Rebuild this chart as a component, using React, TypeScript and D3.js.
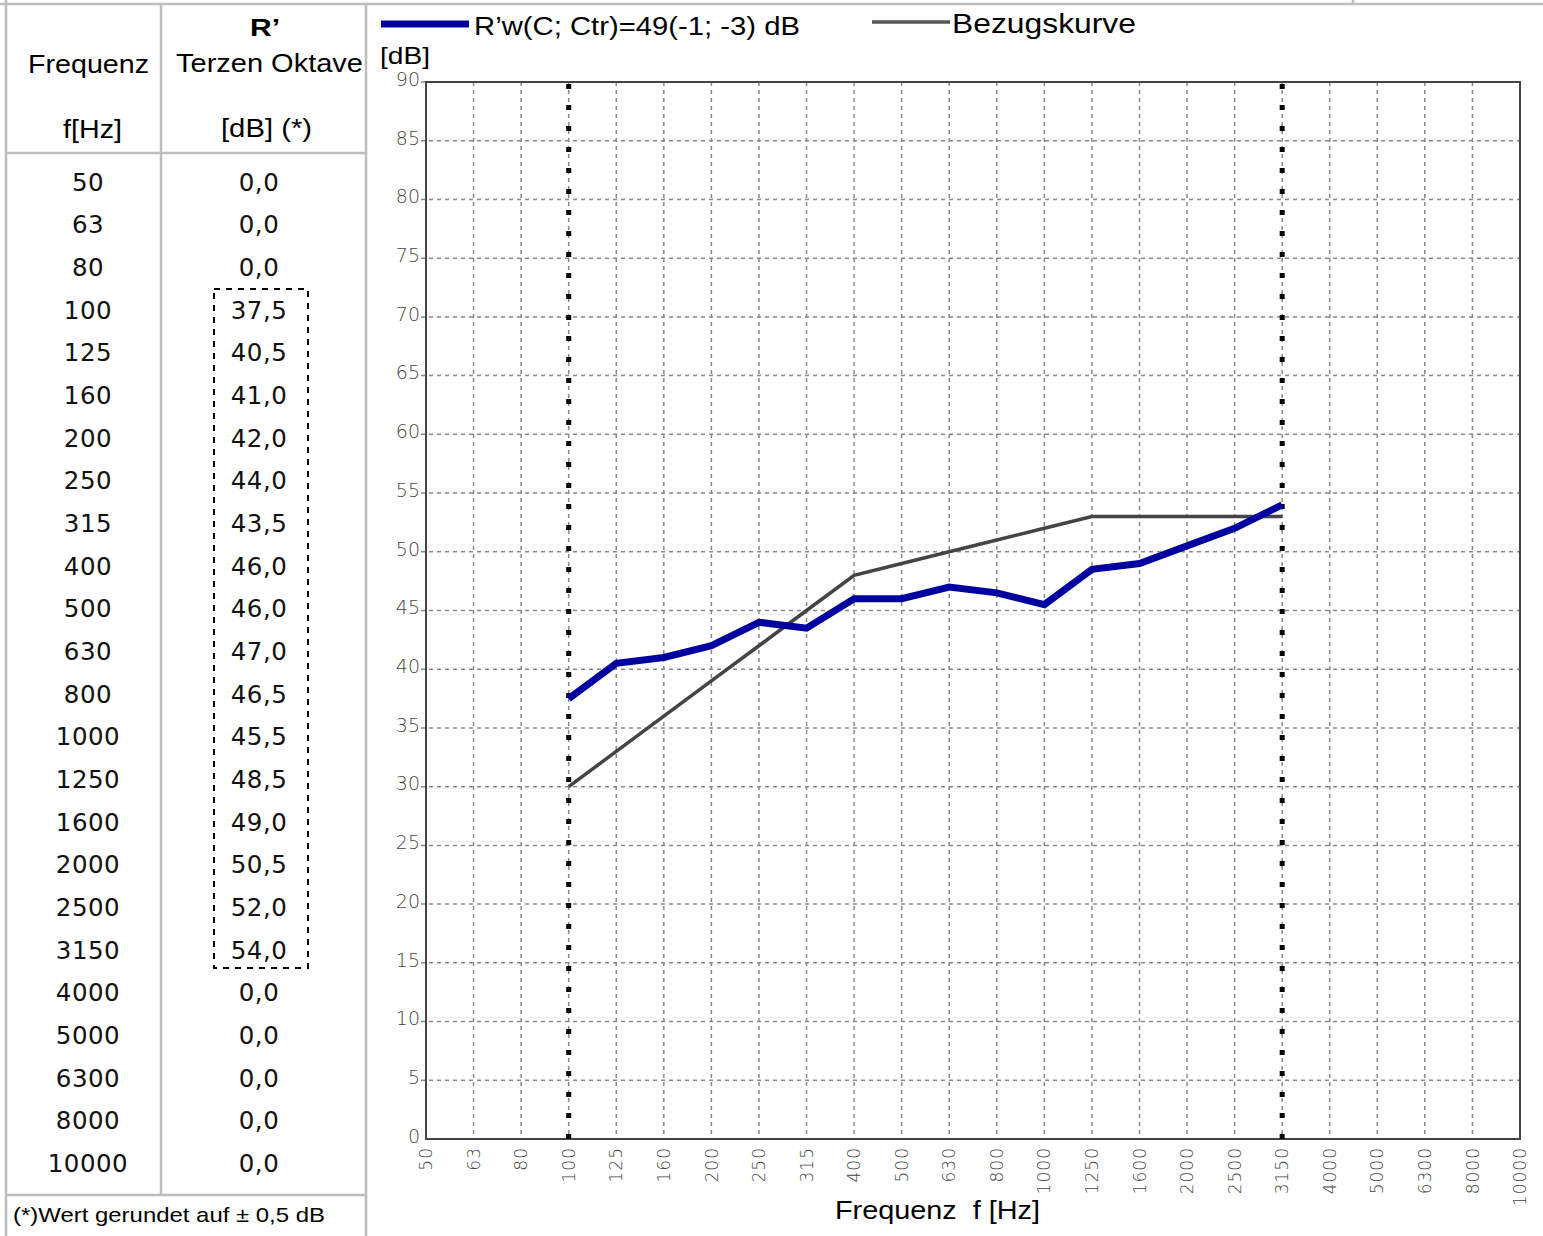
import React, { useEffect, useRef } from "react";
import * as d3 from "d3";

// terzband frequencies (x axis + table)
const frequencies = ["50", "63", "80", "100", "125", "160", "200", "250", "315", "400", "500", "630", "800", "1000", "1250", "1600", "2000", "2500", "3150", "4000", "5000", "6300", "8000", "10000"];
// table values R' per band (0 outside measured range)
const tableValues = [0, 0, 0, 37.5, 40.5, 41, 42, 44, 43.5, 46, 46, 47, 46.5, 45.5, 48.5, 49, 50.5, 52, 54, 0, 0, 0, 0, 0];
// measured curve 100..3150 Hz
const measuredFreqs = ["100", "125", "160", "200", "250", "315", "400", "500", "630", "800", "1000", "1250", "1600", "2000", "2500", "3150"];
const measuredValues = [37.5, 40.5, 41, 42, 44, 43.5, 46, 46, 47, 46.5, 45.5, 48.5, 49, 50.5, 52, 54];
// shifted reference curve (Bezugskurve)
const referenceValues = [30, 33, 36, 39, 42, 45, 48, 49, 50, 51, 52, 53, 53, 53, 53, 53];
const yTicks = [0, 5, 10, 15, 20, 25, 30, 35, 40, 45, 50, 55, 60, 65, 70, 75, 80, 85, 90];
const rangeMarks = ["100", "3150"];

const W = 1543;
const H = 1236;
const sans = "Liberation Sans, Arial, sans-serif";

function App() {
  const ref = useRef<SVGSVGElement | null>(null);

  useEffect(() => {
    const svg = d3.select(ref.current);
    svg.selectAll("*").remove();

    const x0 = 426, x1 = 1520, y0 = 1139, y1 = 82;
    const x = d3.scalePoint<string>().domain(frequencies).range([x0, x1]);
    const y = d3.scaleLinear().domain([0, 90]).range([y0, y1]);
    const fmt = (v: number) => d3.format(".1f")(v).replace(".", ",");

    // helper for the (horizontally wide) labels of the original
    const label = (txt: string, lx: number, ly: number, size: number, len: number, anchor = "start", bold = false) =>
      svg.append("text").attr("x", lx).attr("y", ly).attr("font-family", sans).attr("font-size", size)
        .attr("font-weight", bold ? "bold" : "normal").attr("text-anchor", anchor)
        .attr("textLength", len).attr("lengthAdjust", "spacingAndGlyphs").attr("xml:space", "preserve")
        .attr("fill", "#000").text(txt);

    // ---- table / frame lines
    const frame = svg.append("g").attr("stroke", "#bdbdbd").attr("stroke-width", 2.5);
    frame.append("line").attr("x1", 0).attr("x2", W).attr("y1", 4).attr("y2", 4);
    frame.append("line").attr("x1", 1353).attr("x2", 1353).attr("y1", 0).attr("y2", 4);
    frame.append("line").attr("x1", 6).attr("x2", 6).attr("y1", 0).attr("y2", H);
    frame.append("line").attr("x1", 366).attr("x2", 366).attr("y1", 4).attr("y2", H);
    frame.append("line").attr("x1", 161).attr("x2", 161).attr("y1", 4).attr("y2", 1195);
    frame.append("line").attr("x1", 6).attr("x2", 366).attr("y1", 153).attr("y2", 153);
    frame.append("line").attr("x1", 6).attr("x2", 366).attr("y1", 1195).attr("y2", 1195);

    label("R’", 265, 36, 24, 30, "middle", true);
    label("Frequenz", 88.5, 73, 25, 121, "middle");
    label("Terzen Oktave", 269.5, 72, 25, 187, "middle");
    label("f[Hz]", 92.5, 138, 25, 59, "middle");
    label("[dB] (*)", 266.5, 137, 25, 91, "middle");

    const rowY = d3.scalePoint<string>().domain(frequencies).range([182, 1163]);
    const rows = svg.append("g").attr("font-family", "DejaVu Sans, sans-serif").attr("font-size", 24.5)
      .attr("fill", "#111").attr("text-anchor", "middle").attr("letter-spacing", 0.5);
    frequencies.forEach((f, i) => {
      rows.append("text").attr("x", 88).attr("y", rowY(f)!).attr("dy", "0.36em").text(f);
      rows.append("text").attr("x", 259).attr("y", rowY(f)!).attr("dy", "0.36em").text(fmt(tableValues[i]));
    });
    svg.append("rect").attr("x", 214).attr("y", 289).attr("width", 94).attr("height", 679)
      .attr("fill", "none").attr("stroke", "#000").attr("stroke-width", 2).attr("stroke-dasharray", "6,6");

    label("(*)Wert gerundet auf ± 0,5 dB", 13, 1222, 21, 312);

    // ---- grid
    const grid = svg.append("g").attr("stroke", "#888").attr("stroke-width", 1.5).attr("stroke-dasharray", "4,4");
    yTicks.filter(t => t > 0).forEach(t => {
      grid.append("line").attr("x1", x0 - 5).attr("x2", x1).attr("y1", y(t)).attr("y2", y(t));
    });
    frequencies.slice(1, -1).forEach(f => {
      grid.append("line").attr("x1", x(f)!).attr("x2", x(f)!).attr("y1", y1).attr("y2", y0);
    });

    svg.append("rect").attr("x", x0).attr("y", y1).attr("width", x1 - x0).attr("height", y0 - y1)
      .attr("fill", "none").attr("stroke", "#444").attr("stroke-width", 2);

    // ---- tick labels
    const tickFont = "DejaVu Sans, sans-serif";
    svg.append("g").selectAll("text").data(yTicks).join("text")
      .attr("x", x0 - 6).attr("y", d => y(d)).attr("dy", "0.2em")
      .attr("text-anchor", "end").attr("font-family", tickFont).attr("font-weight", 200)
      .attr("font-size", 19).attr("fill", "#444").text(d => d);
    svg.append("g").selectAll("text").data(frequencies).join("text")
      .attr("transform", d => `translate(${x(d)},${y0 + 8}) rotate(-90)`)
      .attr("dy", "0.36em").attr("text-anchor", "end").attr("font-family", tickFont).attr("font-weight", 200)
      .attr("font-size", 17).attr("fill", "#444").attr("letter-spacing", 1).text(d => d);

    // ---- range markers
    svg.append("g").selectAll("line").data(rangeMarks).join("line")
      .attr("x1", d => x(d)!).attr("x2", d => x(d)!).attr("y1", y1 + 2).attr("y2", y0)
      .attr("stroke", "#000").attr("stroke-width", 5).attr("stroke-dasharray", "5,16");

    // ---- curves
    const line = d3.line<[string, number]>().x(d => x(d[0])!).y(d => y(d[1]));
    svg.append("path").attr("d", line(measuredFreqs.map((f, i) => [f, referenceValues[i]] as [string, number])))
      .attr("fill", "none").attr("stroke", "#444").attr("stroke-width", 3.5);
    svg.append("path").attr("d", line(measuredFreqs.map((f, i) => [f, measuredValues[i]] as [string, number])))
      .attr("fill", "none").attr("stroke", "#0000a0").attr("stroke-width", 7);

    // ---- legend + axis titles
    svg.append("line").attr("x1", 381).attr("x2", 469).attr("y1", 24).attr("y2", 24).attr("stroke", "#0000a0").attr("stroke-width", 7);
    label("R’w(C; Ctr)=49(-1; -3) dB", 474, 35, 25, 326);
    svg.append("line").attr("x1", 872).attr("x2", 950).attr("y1", 22).attr("y2", 22).attr("stroke", "#555").attr("stroke-width", 3.5);
    label("Bezugskurve", 952, 33, 27, 184);
    label("[dB]", 380, 64, 24, 50);
    label("Frequenz  f [Hz]", 835, 1219, 26, 205);
  }, []);

  return (
    <svg ref={ref} width={W} height={H} style={{ position: "absolute", left: 0, top: 0, background: "#fff" }} />
  );
}

export default App;
